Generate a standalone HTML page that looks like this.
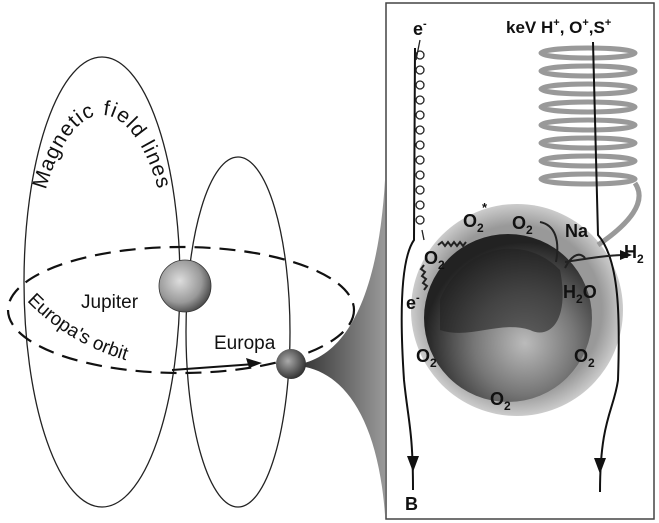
<!DOCTYPE html>
<html><head><meta charset="utf-8"><style>
html,body{margin:0;padding:0;background:#fff;}
svg{display:block;}
text{font-family:"Liberation Sans",Arial,sans-serif;fill:#111;}
.b{font-weight:bold;}
</style></head><body>
<svg width="659" height="523" viewBox="0 0 659 523" xmlns="http://www.w3.org/2000/svg">
<defs>
<radialGradient id="halo" cx="0.5" cy="0.5" r="0.5">
<stop offset="0" stop-color="#999"/><stop offset="0.8" stop-color="#999"/><stop offset="1" stop-color="#ccc"/>
</radialGradient>
<radialGradient id="moon" cx="0.6" cy="0.65" r="0.6">
<stop offset="0" stop-color="#bbb"/><stop offset="0.5" stop-color="#777"/><stop offset="1" stop-color="#222"/>
</radialGradient>
<radialGradient id="jup" cx="0.4" cy="0.4" r="0.7">
<stop offset="0" stop-color="#ddd"/><stop offset="0.6" stop-color="#999"/><stop offset="1" stop-color="#333"/>
</radialGradient>
<radialGradient id="eur" cx="0.4" cy="0.4" r="0.7">
<stop offset="0" stop-color="#aaa"/><stop offset="1" stop-color="#222"/>
</radialGradient>
<linearGradient id="fun" x1="0" x2="1">
<stop offset="0" stop-color="#333"/><stop offset="1" stop-color="#999"/>
</linearGradient>
<path id="mag" d="M 32 300 A 70 185 0 0 1 172 300"/>
<path id="orb" d="M 24 298 Q 80 358 172 370"/>
</defs>

<ellipse cx="102" cy="282" rx="78" ry="225" fill="none" stroke="#222" stroke-width="1.3"/>
<ellipse cx="238" cy="332" rx="52" ry="175" fill="none" stroke="#222" stroke-width="1.3"/>
<ellipse cx="181" cy="310" rx="173" ry="63" fill="none" stroke="#111" stroke-width="2.2" stroke-dasharray="16 9"/>
<path d="M300 364 C345 355 378 300 385 180 L385 515 C378 420 345 372 300 366 Z" fill="url(#fun)"/>
<circle cx="185" cy="286" r="26" fill="url(#jup)" stroke="#333" stroke-width="0.8"/>
<circle cx="291" cy="364" r="15" fill="url(#eur)"/>
<path d="M172 370 L255 364" stroke="#111" stroke-width="2"/>
<path d="M262 363 L246 358 L249 368 Z" fill="#111"/>
<text x="81" y="308" font-size="19">Jupiter</text>
<text x="214" y="349" font-size="19">Europa</text>
<text font-size="21" letter-spacing="1" text-anchor="middle"><textPath href="#mag" startOffset="50%">Magnetic field lines</textPath></text>
<text font-size="19"><textPath href="#orb" startOffset="4">Europa's orbit</textPath></text>

<rect x="386" y="3" width="268" height="516" fill="#fff" stroke="#444" stroke-width="1.5"/>
<circle cx="517" cy="310" r="106" fill="url(#halo)"/>
<circle cx="508" cy="318" r="84" fill="url(#moon)"/>
<path d="M440 300 C460 250 520 230 560 270 C570 320 550 340 530 330 C500 320 470 340 440 330 Z" fill="#222" opacity="0.6"/>
<g fill="none" stroke="#999" stroke-width="5">
<ellipse cx="588" cy="53" rx="47" ry="5"/>
<ellipse cx="588" cy="71" rx="47" ry="5"/>
<ellipse cx="588" cy="89" rx="47" ry="5"/>
<ellipse cx="588" cy="107" rx="47" ry="5"/>
<ellipse cx="588" cy="125" rx="47" ry="5"/>
<ellipse cx="588" cy="143" rx="47" ry="5"/>
<ellipse cx="588" cy="161" rx="47" ry="5"/>
<ellipse cx="588" cy="179" rx="47" ry="5"/>
<path d="M635 183 C650 205 620 230 598 245"/>
</g>
<g fill="none" stroke="#111" stroke-width="2">
<path d="M415 48 L414 240 C400 260 400 320 404 380 C408 420 413 430 413 490"/>
<path d="M593 42 L598 235 C620 260 620 320 618 380 C614 410 600 420 600 492"/>
</g>
<path d="M407 456 L419 456 L413 472 Z" fill="#111"/>
<path d="M594 458 L606 458 L600 474 Z" fill="#111"/>
<g fill="none" stroke="#222" stroke-width="1.3">
<circle cx="420" cy="55" r="4"/><circle cx="420" cy="70" r="4"/><circle cx="420" cy="85" r="4"/>
<circle cx="420" cy="100" r="4"/><circle cx="420" cy="115" r="4"/><circle cx="420" cy="130" r="4"/>
<circle cx="420" cy="145" r="4"/><circle cx="420" cy="160" r="4"/><circle cx="420" cy="175" r="4"/>
<circle cx="420" cy="190" r="4"/><circle cx="420" cy="205" r="4"/><circle cx="420" cy="220" r="4"/>
<path d="M420 40 L416 60 M422 230 L424 240"/>
<path d="M438 245 l4 -3 l3 4 l3 -4 l3 4 l3 -4 l3 4 l3 -4 l3 4 l3 -4" stroke-width="2"/>
<path d="M424 265 l-3 4 l4 3 l-3 4 l4 3 l-3 4 l4 3 l-3 4" stroke-width="2"/>
<path d="M540 222 C555 225 560 240 556 262 M585 258 C578 250 570 258 565 268 M565 262 C590 258 610 255 625 255" stroke-width="2"/>
</g>
<path d="M632 255 L620 250 L620 260 Z" fill="#111"/>
<g class="b" font-size="18">
<text x="413" y="35" class="b">e<tspan font-size="11" dy="-8">-</tspan></text>
<text x="506" y="33" font-size="17" class="b">keV H<tspan font-size="11" dy="-7">+</tspan><tspan dy="7">, O</tspan><tspan font-size="11" dy="-7">+</tspan><tspan dy="7">,S</tspan><tspan font-size="11" dy="-7">+</tspan></text>
<text x="463" y="227" class="b">O<tspan font-size="12" dy="5">2</tspan></text>
<text x="482" y="212" font-size="13" class="b">*</text>
<text x="512" y="229" class="b">O<tspan font-size="12" dy="5">2</tspan></text>
<text x="565" y="237" class="b">Na</text>
<text x="624" y="258" class="b">H<tspan font-size="12" dy="5">2</tspan></text>
<text x="424" y="264" class="b">O<tspan font-size="12" dy="5">2</tspan></text>
<text x="563" y="298" class="b">H<tspan font-size="12" dy="5">2</tspan><tspan dy="-5">O</tspan></text>
<text x="406" y="309" class="b">e<tspan font-size="11" dy="-8">-</tspan></text>
<text x="416" y="362" class="b">O<tspan font-size="12" dy="5">2</tspan></text>
<text x="574" y="362" class="b">O<tspan font-size="12" dy="5">2</tspan></text>
<text x="490" y="405" class="b">O<tspan font-size="12" dy="5">2</tspan></text>
<text x="405" y="510" class="b">B</text>
</g>
</svg>
</body></html>
